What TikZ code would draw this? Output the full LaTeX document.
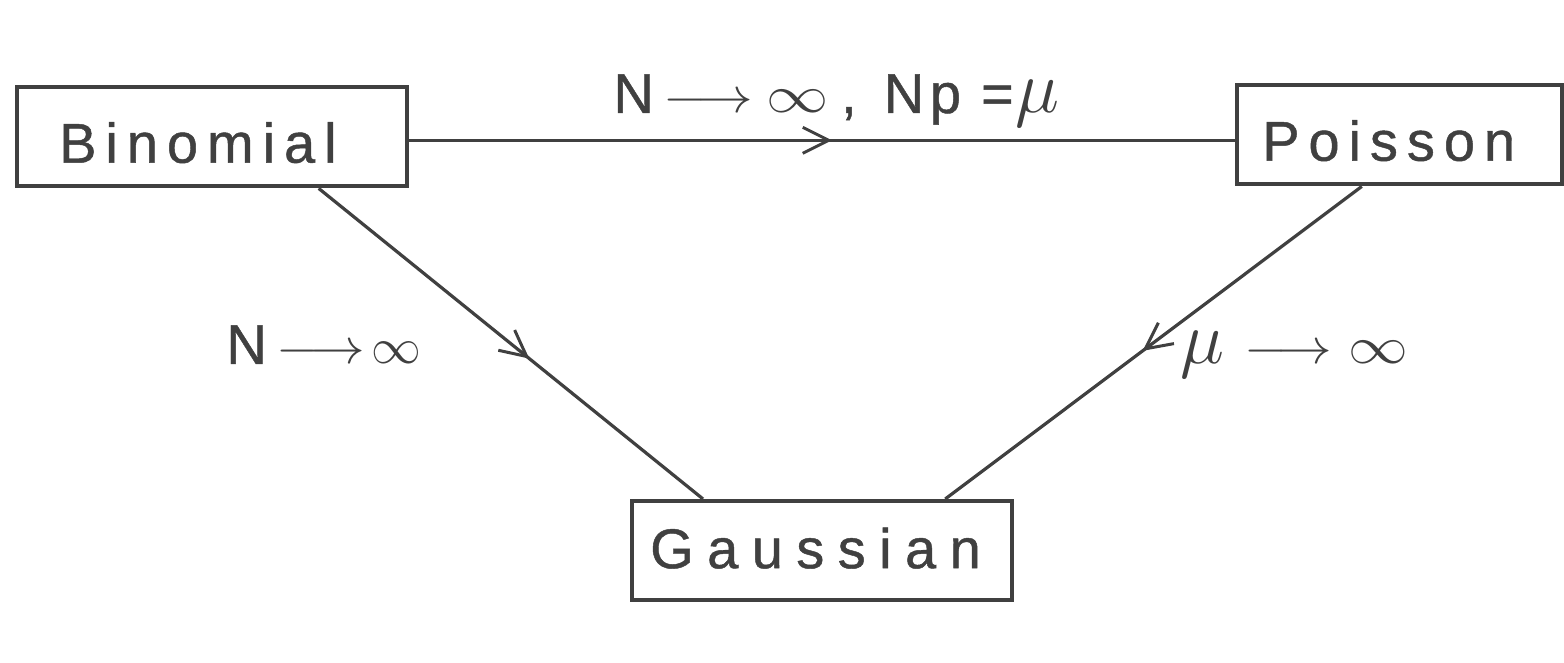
\documentclass[tikz,border=0pt]{standalone}
\usepackage{fontspec}
\setmainfont{Liberation Sans}
\newfontfamily\boxfont[LetterSpace=16,FakeBold=0.8]{Liberation Sans}
\newfontfamily\gaussfont[LetterSpace=24,FakeBold=0.8]{Liberation Sans}
\newfontfamily\labfont[LetterSpace=10,FakeBold=0.8]{Liberation Sans}
\usetikzlibrary{arrows.meta,decorations.markings,calc}
\definecolor{ink}{gray}{0.25}
\tikzset{
  distbox/.style={draw=ink, line width=2.2pt, text=ink, inner ysep=0pt,
    minimum height=49.5pt, align=left, anchor=north west,
    font=\boxfont\fontsize{28}{34}\selectfont},
  conn/.style={draw=ink, line width=1.6pt},
  midarrow/.style={postaction={decorate}, decoration={markings,
    mark=at position #1 with {\arrow{Straight Barb[length=13pt,width=13pt,line width=1.5pt]}}}},
  lab/.style={text=ink, inner sep=0pt, anchor=base west,
    font=\labfont\fontsize{28}{34}\selectfont}
}
\begin{document}
\begin{tikzpicture}[x=0.5pt,y=-0.5pt]
\useasboundingbox (0,0) rectangle (1564,663);
\node[distbox, inner xsep=21pt, text width=153pt, text height=26pt, text depth=0pt] (B) at (15,85) {Binomial};
\node[distbox, inner xsep=12.5pt, text width=137.5pt, text height=26pt, text depth=0pt] (P) at (1235,83) {Poisson};
\node[distbox, inner xsep=9pt, text width=172pt, text height=17.5pt, text depth=0pt, font=\gaussfont\fontsize{28}{34}\selectfont] (G) at (630,499) {Gaussian};
\coordinate (h1) at ($(B.north east)!0.535!(B.south east)$);
\draw[conn, midarrow=0.512] (h1) -- (h1 -| P.west);
\draw[conn, midarrow=0.548] ($(B.south west)!0.77!(B.south east)$) -- ($(G.north west)!0.19!(G.north east)$);
\draw[conn, midarrow=0.526] ($(P.south west)!0.385!(P.south east)$) -- ($(G.north west)!0.82!(G.north east)$);
\node[lab] (l1) at (613,113) {N\,\scalebox{1.12}[1]{$\longrightarrow$}\hspace{7pt}\scalebox{1.25}[1.05]{$\infty$}\hspace{6pt},\hspace{3pt} Np\hspace{10pt}=\hspace{1pt}\scalebox{1.5}{$\mu$}};
\node[lab] (l2) at (226,364) {N\hspace{5pt}\scalebox{1.1}[1]{$\longrightarrow$}\hspace{3pt}$\infty$};
\node[lab] (l3) at (1180,364) {\scalebox{1.5}{$\mu$}\hspace{10pt}\scalebox{1.1}[1]{$\longrightarrow$}\hspace{8pt}\scalebox{1.2}[1.05]{$\infty$}};
\end{tikzpicture}
\end{document}
